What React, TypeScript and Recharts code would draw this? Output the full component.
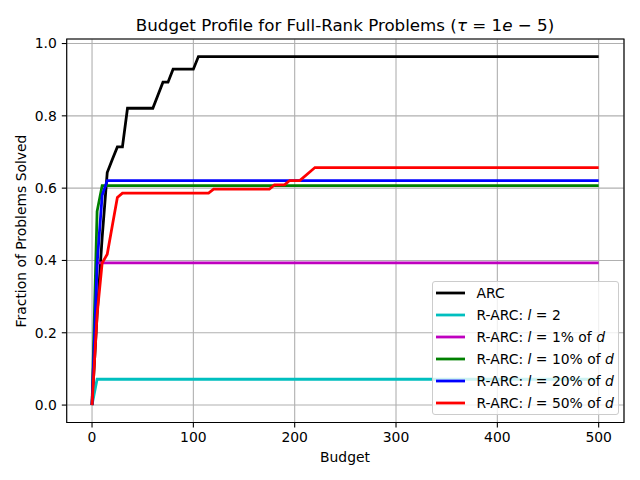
import { LineChart, Line, XAxis, YAxis, CartesianGrid, Legend, ReferenceArea } from "recharts";

// budget grid and fraction solved
const budgetArc = [0, 5, 10, 15, 20, 25, 30, 35, 60, 65, 70, 75, 80, 100, 105, 500];
const fracArc = [0, 0.25, 0.464, 0.643, 0.679, 0.714, 0.714, 0.821, 0.821, 0.857, 0.893, 0.893, 0.929, 0.929, 0.964, 0.964];

const budgetL2 = [0, 5, 500];
const fracL2 = [0, 0.0714, 0.0714];

const budgetP1 = [0, 5, 500];
const fracP1 = [0, 0.393, 0.393];

const budgetP10 = [0, 5, 10, 500];
const fracP10 = [0, 0.536, 0.607, 0.607];

const budgetP20 = [0, 5, 10, 15, 500];
const fracP20 = [0, 0.39, 0.58, 0.621, 0.621];

const budgetP50 = [0, 5, 10, 15, 20, 25, 30, 115, 120, 175, 180, 190, 195, 205, 220, 500];
const fracP50 = [0, 0.25, 0.393, 0.417, 0.496, 0.574, 0.586, 0.586, 0.597, 0.597, 0.609, 0.609, 0.621, 0.621, 0.657, 0.657];

const xTicks = [0, 100, 200, 300, 400, 500];
const yTicks = [0, 0.2, 0.4, 0.6, 0.8, 1.0];
const xDomain = [-25, 525];
const yDomain = [-0.0482, 1.0125];

const font = "'DejaVu Sans', sans-serif";

const toPoints = (xs: number[], ys: number[]) => xs.map((x, i) => ({ x, y: ys[i] }));

const series = [
  { key: "arc", color: "#000000", data: toPoints(budgetArc, fracArc), label: <>ARC</> },
  { key: "l2", color: "#00bfbf", data: toPoints(budgetL2, fracL2), label: <>R-ARC: <i>l</i> = 2</> },
  { key: "p1", color: "#bf00bf", data: toPoints(budgetP1, fracP1), label: <>R-ARC: <i>l</i> = 1% of <i>d</i></> },
  { key: "p10", color: "#008000", data: toPoints(budgetP10, fracP10), label: <>R-ARC: <i>l</i> = 10% of <i>d</i></> },
  { key: "p20", color: "#0000ff", data: toPoints(budgetP20, fracP20), label: <>R-ARC: <i>l</i> = 20% of <i>d</i></> },
  { key: "p50", color: "#ff0000", data: toPoints(budgetP50, fracP50), label: <>R-ARC: <i>l</i> = 50% of <i>d</i></> },
];

function LegendBox() {
  return (
    <div
      style={{
        background: "rgba(255,255,255,0.8)",
        border: "1px solid #cccccc",
        borderRadius: 3,
        fontFamily: font,
        fontSize: 13.9,
        color: "#000",
        boxSizing: "border-box",
        width: 187,
        height: 134,
        paddingTop: 0,
      }}
    >
      {series.map((s) => (
        <div key={s.key} style={{ display: "flex", alignItems: "center", height: 22 }}>
          <svg width={44} height={22} style={{ flex: "none" }}>
            <line x1={3} x2={32} y1={11} y2={11} stroke={s.color} strokeWidth={2.78} />
          </svg>
          <span style={{ whiteSpace: "nowrap", lineHeight: "22px" }}>{s.label}</span>
        </div>
      ))}
    </div>
  );
}

export default function App() {
  return (
    <div style={{ position: "absolute", left: 0, top: 0, width: 640, height: 480, background: "#fff" }}>
      <LineChart
        width={640}
        height={480}
        margin={{ top: 39, right: 16, bottom: 0, left: 0 }}
        style={{ fontFamily: font }}
      >
        <CartesianGrid stroke="#b0b0b0" strokeWidth={1.1} />
        <XAxis
          type="number"
          dataKey="x"
          domain={xDomain}
          ticks={xTicks}
          allowDataOverflow
          height={57.5}
          axisLine={false}
          tickLine={{ stroke: "#000", strokeWidth: 1.1 }}
          tickSize={4.9}
          tickMargin={5}
          tick={{ fill: "#000", fontSize: 13.9, fontFamily: font }}
        />
        <YAxis
          type="number"
          dataKey="y"
          domain={yDomain}
          ticks={yTicks}
          allowDataOverflow
          width={66.7}
          axisLine={false}
          tickLine={{ stroke: "#000", strokeWidth: 1.1 }}
          tickSize={4.9}
          tickMargin={5}
          tickFormatter={(v: number) => v.toFixed(1)}
          tick={{ fill: "#000", fontSize: 13.9, fontFamily: font }}
        />
        <ReferenceArea
          x1={xDomain[0]}
          x2={xDomain[1]}
          y1={yDomain[0]}
          y2={yDomain[1]}
          fill="none"
          stroke="#000"
          strokeWidth={1.1}
          ifOverflow="visible"
        />
        {series.map((s) => (
          <Line
            key={s.key}
            data={s.data}
            dataKey="y"
            type="linear"
            stroke={s.color}
            strokeWidth={2.78}
            dot={false}
            isAnimationActive={false}
          />
        ))}
        <Legend
          layout="vertical"
          align="center"
          verticalAlign="middle"
          wrapperStyle={{ left: 431.5, top: 280.5, width: 187, height: 134 }}
          content={() => <LegendBox />}
        />
      </LineChart>
      <svg width={640} height={480} style={{ position: "absolute", left: 0, top: 0, pointerEvents: "none" }}>
        <text x={345} y={31} textAnchor="middle" fontFamily={font} fontSize={16.7} fill="#000">
          Budget Profile for Full-Rank Problems (<tspan fontStyle="italic">τ</tspan> = 1<tspan fontStyle="italic">e</tspan> − 5)
        </text>
        <text x={345} y={462} textAnchor="middle" fontFamily={font} fontSize={13.9} fill="#000">
          Budget
        </text>
        <text x={26} y={231} textAnchor="middle" fontFamily={font} fontSize={13.9} fill="#000" transform="rotate(-90 26 231)">
          Fraction of Problems Solved
        </text>
      </svg>
    </div>
  );
}
